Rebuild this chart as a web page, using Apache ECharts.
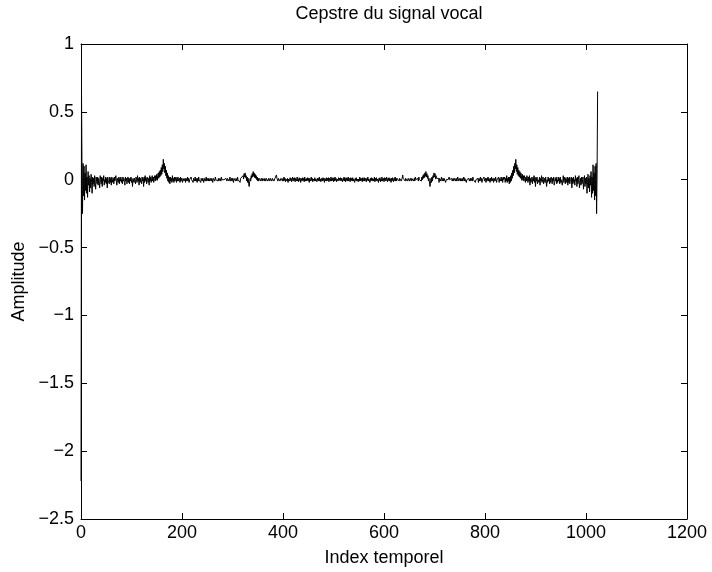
<!DOCTYPE html>
<html>
<head>
<meta charset="utf-8">
<script src="https://cdn.jsdelivr.net/npm/echarts@6/dist/echarts.min.js"></script>
<style>html,body{margin:0;padding:0;background:#fff}#c{width:712px;height:572px}</style>
</head>
<body>
<div id="c"></div>
<script>
const titleText = 'Cepstre du signal vocal';
const xName = 'Index temporel';
const yName = 'Amplitude';
const xTicks = [0, 200, 400, 600, 800, 1000, 1200];
const yTicks = [-2.5, -2, -1.5, -1, -0.5, 0, 0.5, 1];

// Cepstre values, index 0..511
const cepFirstHalf = [
-2.22,0.65,0.08,-0.25,0.12,-0.12,0.1,-0.15,0.05,-0.08,0.11,-0.1,0.02,-0.13,0.06,-0.04,
0.03,-0.09,0.01,-0.06,0.04,-0.02,-0.1,0.02,-0.03,0.01,-0.05,0.03,-0.02,-0.07,0.02,-0.01,
-0.03,0.02,-0.04,0.01,-0.02,-0.06,0.03,0,-0.03,0.02,-0.05,0.01,-0.01,0.03,-0.04,0,
-0.02,0.02,-0.03,0.01,-0.06,0.02,-0.01,0,-0.03,0.02,-0.02,0.01,-0.04,0.02,0,-0.02,
0.01,-0.03,0.02,-0.01,-0.02,0.03,-0.01,-0.04,0.01,0,-0.02,0.02,-0.03,0.01,-0.01,0.02,
-0.02,0,-0.03,0.02,-0.01,0.01,-0.02,-0.04,0.02,-0.01,0.01,-0.03,0,0.02,-0.02,0.01,
-0.03,0.01,-0.01,0.02,-0.02,0,-0.05,0.01,0.02,-0.02,0.01,-0.01,-0.03,0.02,0,-0.02,
0.03,-0.01,0.01,-0.04,0.02,-0.02,0.01,0,-0.03,0.02,-0.01,0.01,-0.05,0.02,-0.02,0.03,
-0.01,0.01,-0.03,0.02,0,-0.02,0.01,-0.04,0.03,-0.01,0.02,-0.02,0.01,0.03,-0.01,0.02,
-0.02,0.01,0.03,-0.01,0.03,0,0.04,-0.005,0.03,0.05,0.01,0.06,0.02,0.07,0.03,0.09,
0.04,0.11,0.06,0.15,0.08,0.12,0.05,0.1,0.03,0.07,0.01,0.05,-0.01,0.03,-0.02,0.02,
-0.03,0.02,-0.01,0.01,-0.02,0.03,-0.01,0.01,-0.02,0.02,-0.01,0,0.02,-0.02,0.01,-0.01,
0.02,-0.01,0,0.01,-0.02,0.02,-0.01,0.01,0,-0.02,0.01,0.02,-0.01,0,0.01,-0.02,
0.01,0,-0.01,0.02,-0.01,0.01,-0.02,0,0.01,-0.01,0.02,0,-0.01,0.01,-0.02,0.01,
0,-0.01,0.02,-0.01,0.01,0,-0.02,0.01,-0.01,0.02,0,-0.01,0.01,-0.02,0.01,0,
-0.01,0.01,0,-0.02,0.01,0.01,-0.01,0,0.02,-0.01,0,0.01,-0.01,0.01,0,-0.01,
0.01,0,-0.01,0.01,0,-0.02,0.01,0,0.01,-0.01,0.02,0,-0.01,0.01,0,-0.01,
0.01,-0.01,0,0.01,0,-0.01,0.02,0,-0.01,0.01,-0.01,0,0.01,0,-0.01,0.01,
0,-0.01,0.01,0,0.01,-0.01,0,0.02,-0.01,0,0.01,-0.01,0.01,0,-0.02,0.01,
0,0.01,-0.01,0.01,0,-0.01,0.02,0,-0.01,0.01,0.01,-0.02,0.01,0,0.02,0.01,
0.01,0.03,0.005,0.045,0.02,0.05,0.015,0.03,-0.01,0.02,-0.02,0.01,-0.03,-0.05,-0.015,0.01,
-0.01,0.03,0.01,0.045,0.02,0.06,0.025,0.05,0.015,0.04,0.01,0.03,0,0.02,-0.01,0.01,
-0.01,0.01,0,0.02,-0.01,0.01,0,-0.01,0.01,0,0.02,-0.01,0.01,0,-0.01,0.01,
0,0.01,-0.01,0,0.01,0,-0.01,0.01,0.01,0,-0.01,0.01,0,0.01,-0.01,0,
0.01,0,0.01,0.035,0.01,0,-0.01,0.01,0,0.01,-0.01,0,0.01,0,0.01,-0.01,
0.01,-0.01,0.02,-0.005,0.01,-0.015,0.005,0.015,-0.01,0.01,-0.02,0.005,0.01,-0.01,0.015,-0.005,
0.01,-0.015,0.005,0.02,-0.01,0.01,-0.005,0.015,-0.015,0.01,0,-0.01,0.02,-0.01,0.005,-0.015,
0.015,-0.005,0.01,-0.02,0.01,0.005,-0.01,0.015,-0.005,0.01,-0.015,0.02,-0.01,0.005,-0.01,0.01,
-0.005,0.015,-0.01,0.01,-0.02,0.01,0.005,-0.01,0.02,-0.005,0.01,-0.015,0.005,0.01,-0.01,0.015,
-0.01,0.005,0.015,-0.015,0.01,-0.005,0.01,-0.01,0.02,-0.01,0.005,-0.015,0.01,0.005,-0.01,0.015,
-0.005,0.01,-0.02,0.01,0.005,-0.01,0.015,-0.01,0.01,-0.005,0.015,-0.015,0.01,0,-0.01,0.02,
-0.01,0.01,-0.005,0.015,-0.015,0.01,-0.01,0.02,-0.005,0.01,-0.015,0.005,0.01,-0.01,0.015,-0.005
];
// Cepstre values, index 512..1023
const cepSecondHalf = [
0.01,
-0.005,0.015,-0.01,0.01,0.005,-0.015,0.01,-0.005,0.02,-0.01,0.01,-0.015,0.015,-0.005,0.01,-0.01,
0.02,-0.01,0,0.01,-0.015,0.015,-0.005,0.01,-0.01,0.015,-0.01,0.005,0.01,-0.02,0.01,-0.005,
0.015,-0.01,0.005,0.01,-0.015,0.005,-0.01,0.02,-0.01,0.01,-0.005,0.01,-0.015,0.015,0.005,-0.01,
0.015,-0.01,0.01,0.005,-0.015,0.01,-0.005,0.02,-0.01,0.005,0.01,-0.02,0.01,-0.01,0.015,-0.005,
0.01,-0.01,0.005,-0.01,0.02,-0.015,0.01,-0.005,0.015,-0.01,0.005,0.01,-0.02,0.01,-0.005,0.015,
-0.015,0.005,-0.01,0.02,-0.01,0,0.01,-0.015,0.015,-0.005,0.01,-0.01,0.02,0.005,-0.015,0.01,
-0.005,0.015,-0.01,0.01,0.005,-0.02,0.01,-0.01,0.015,0.005,-0.015,0.01,-0.005,0.02,-0.01,0.01,
-0.01,0.01,0,0.01,0,-0.01,0.01,0,0.01,-0.01,0,0.01,0.035,0.01,0,0.01,
0,-0.01,0.01,0,0.01,-0.01,0,0.01,0.01,-0.01,0,0.01,0,-0.01,0.01,0,
0.01,-0.01,0,0.01,-0.01,0.02,0,0.01,-0.01,0,0.01,-0.01,0.02,0,0.01,-0.01,
0.01,-0.01,0.02,0,0.03,0.01,0.04,0.015,0.05,0.025,0.06,0.02,0.045,0.01,0.03,-0.01,
0.01,-0.015,-0.05,-0.03,0.01,-0.02,0.02,-0.01,0.03,0.015,0.05,0.02,0.045,0.005,0.03,0.01,
0.01,0.02,0,0.01,-0.02,0.01,0.01,-0.01,0,0.02,-0.01,0,0.01,-0.01,0.01,0,
0.01,-0.02,0,0.01,-0.01,0.01,0,-0.01,0.02,0,-0.01,0.01,0,0.01,-0.01,0,
0.01,-0.01,0,0.01,0,-0.01,0.01,-0.01,0,0.02,-0.01,0,0.01,0,-0.01,0.01,
-0.01,0,0.01,-0.01,0,0.02,-0.01,0.01,0,0.01,-0.02,0,0.01,-0.01,0,0.01,
-0.01,0,0.01,-0.01,0.01,0,-0.01,0.02,0,-0.01,0.01,0.01,-0.02,0,0.01,-0.01,
0,0.01,-0.02,0.01,-0.01,0,0.02,-0.01,0.01,-0.02,0,0.01,-0.01,0.02,-0.01,0,
0.01,-0.02,0.01,-0.01,0,0.02,-0.01,0.01,0,-0.02,0.01,-0.01,0.02,-0.01,0,0.01,
-0.02,0.01,0,-0.01,0.02,0.01,-0.02,0,0.01,-0.01,0.02,-0.02,0.01,0,-0.01,0.02,
-0.01,0.01,-0.02,0.02,0,-0.01,0.02,-0.02,0.01,-0.01,0.03,-0.02,0.01,-0.01,0.02,-0.03,
0.02,-0.02,0.03,-0.01,0.05,0.01,0.07,0.03,0.1,0.05,0.12,0.08,0.15,0.06,0.11,0.04,
0.09,0.03,0.07,0.02,0.06,0.01,0.05,0.03,-0.005,0.04,0,0.03,-0.01,0.03,0.01,-0.02,
0.02,-0.01,0.03,0.01,-0.02,0.02,-0.01,0.03,-0.04,0.01,-0.02,0,0.02,-0.03,0.01,-0.01,
0.03,-0.02,0.02,-0.05,0.01,-0.01,0.02,-0.03,0,0.01,-0.02,0.02,-0.04,0.01,-0.01,0.03,
-0.02,0,0.02,-0.03,-0.01,0.01,-0.02,0.02,0.01,-0.05,0,-0.02,0.02,-0.01,0.01,-0.03,
0.01,-0.02,0.02,0,-0.03,0.01,-0.01,0.02,-0.04,-0.02,0.01,-0.01,0.02,-0.03,0,-0.02,
0.02,-0.01,0.01,-0.03,0.02,-0.02,0,0.01,-0.04,-0.01,0.03,-0.02,-0.01,0.02,-0.03,0.01,
-0.02,0,0.02,-0.04,0.01,-0.02,0.02,-0.03,0,-0.01,0.02,-0.06,0.01,-0.03,0.02,-0.02,
0,-0.04,0.03,-0.01,0.01,-0.05,0.02,-0.03,0,0.03,-0.06,-0.02,0.01,-0.04,0.02,-0.03,
-0.01,0.02,-0.07,-0.02,0.03,-0.05,0.01,-0.03,0.02,-0.1,-0.02,0.04,-0.06,0.01,-0.09,0.03,
-0.04,0.06,-0.13,0.02,-0.1,0.11,-0.08,0.05,-0.15,0.1,-0.12,0.12,-0.25,0.08,0.65
];

const values = cepFirstHalf.concat(cepSecondHalf);
const seriesData = values.map((v, i) => [i, v]);

const fontFamily = 'Liberation Sans, Arial, Helvetica, sans-serif';
const labelStyle = { color: '#000', fontSize: 18, fontFamily: fontFamily };
const fmtNum = v => String(v).replace('-', '\u2212');

const chart = echarts.init(document.getElementById('c'), null, { renderer: 'canvas' });
const axisLineStyle = { show: true, onZero: false, lineStyle: { color: '#000', width: 1 } };
const tickStyle = { show: true, inside: true, length: 6, lineStyle: { color: '#000', width: 1 } };

chart.setOption({
  animation: false,
  backgroundColor: '#fff',
  title: {
    text: titleText,
    left: 384,
    top: 0,
    textAlign: 'center',
    textStyle: { color: '#000', fontSize: 18, fontWeight: 'normal', fontFamily: fontFamily }
  },
  grid: { left: 81, right: 25, top: 44, bottom: 51, containLabel: false },
  xAxis: [
    {
      type: 'value', min: xTicks[0], max: xTicks[xTicks.length - 1], interval: 200,
      position: 'bottom',
      axisLine: axisLineStyle, axisTick: tickStyle, splitLine: { show: false },
      axisLabel: Object.assign({ margin: 5, formatter: fmtNum }, labelStyle),
      name: xName, nameLocation: 'middle', nameGap: 30,
      nameTextStyle: labelStyle
    },
    {
      type: 'value', min: xTicks[0], max: xTicks[xTicks.length - 1], interval: 200,
      position: 'top',
      axisLine: axisLineStyle, axisTick: tickStyle, splitLine: { show: false },
      axisLabel: { show: false }
    }
  ],
  yAxis: [
    {
      type: 'value', min: yTicks[0], max: yTicks[yTicks.length - 1], interval: 0.5,
      position: 'left',
      axisLine: axisLineStyle, axisTick: tickStyle, splitLine: { show: false },
      axisLabel: Object.assign({ margin: 7, formatter: fmtNum }, labelStyle),
      name: yName, nameLocation: 'middle', nameGap: 52, nameRotate: 90,
      nameTextStyle: labelStyle
    },
    {
      type: 'value', min: yTicks[0], max: yTicks[yTicks.length - 1], interval: 0.5,
      position: 'right',
      axisLine: axisLineStyle, axisTick: tickStyle, splitLine: { show: false },
      axisLabel: { show: false }
    }
  ],
  series: [{
    type: 'line',
    data: seriesData,
    xAxisIndex: 0, yAxisIndex: 0,
    showSymbol: false,
    symbol: 'none',
    lineStyle: { color: '#000', width: 1 },
    sampling: null,
    silent: true
  }]
});
</script>
</body>
</html>
